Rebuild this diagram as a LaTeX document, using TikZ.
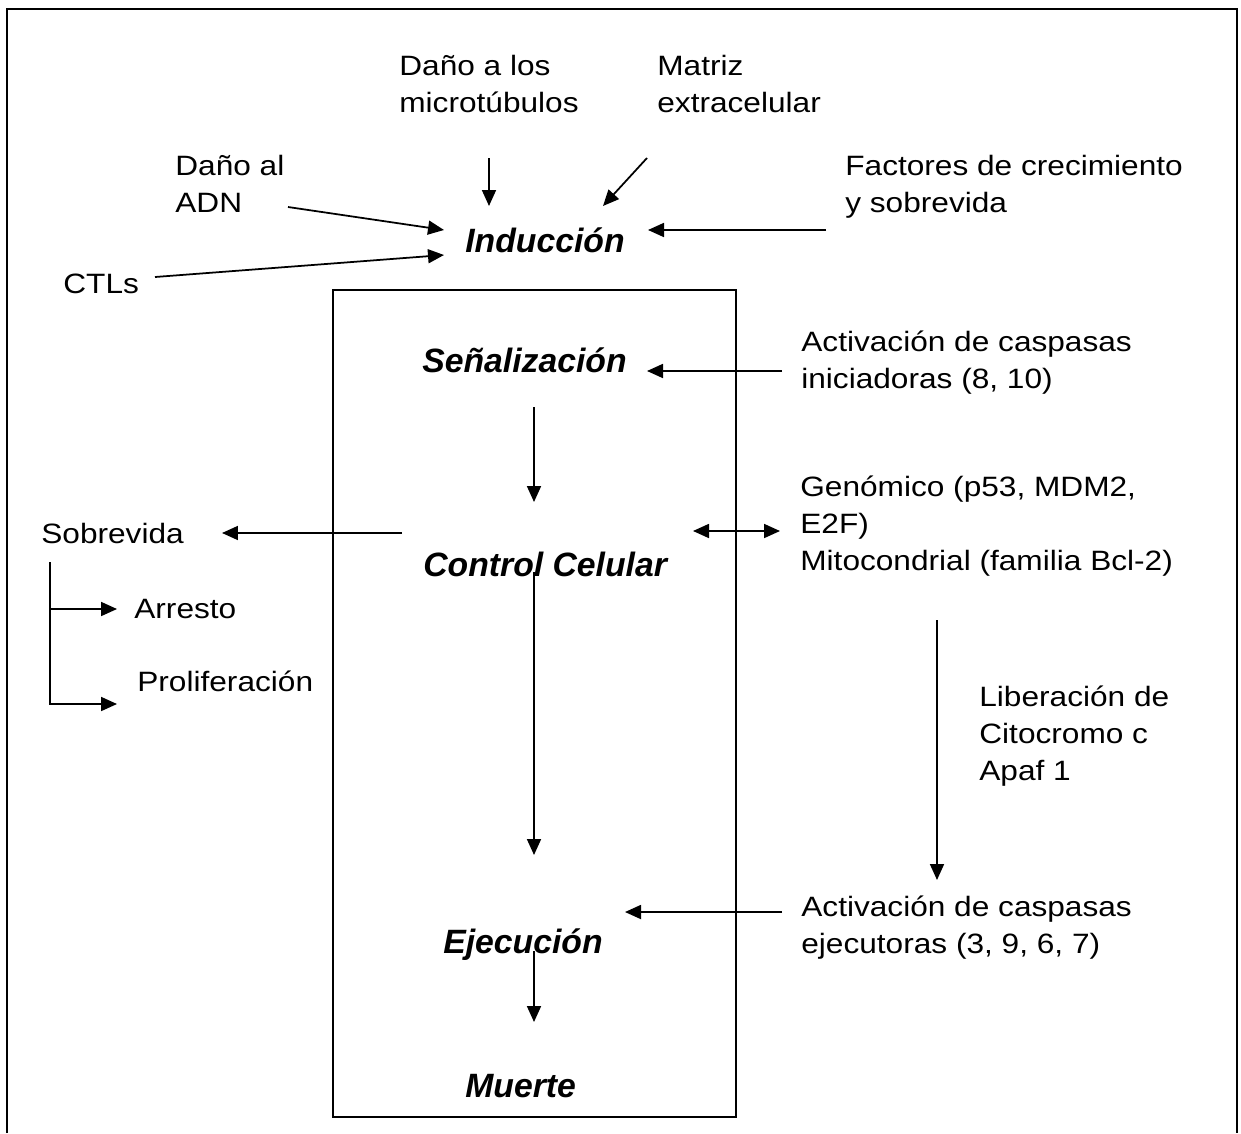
\documentclass[tikz,border=0pt]{standalone}
\usepackage{fontspec}
\setmainfont{Liberation Sans}
\newfontfamily\regfont{Liberation Sans}[FakeStretch=1.13]
\usetikzlibrary{arrows.meta}
\begin{document}
\begin{tikzpicture}[x=0.02cm,y=-0.02cm,
  lbl/.style={anchor=base west,inner sep=0pt,align=left,
    font=\regfont\fontsize{15.93pt}{21.05pt}\selectfont},
  stage/.style={anchor=base west,inner sep=0pt,
    font=\bfseries\itshape\fontsize{19.2pt}{23pt}\selectfont},
  conn/.style={line width=1pt},
  arr/.style={conn,-{Triangle[length=0.32cm,width=0.28cm]}},
  darr/.style={conn,{Triangle[length=0.32cm,width=0.28cm]}-{Triangle[length=0.32cm,width=0.28cm]}},
  frame/.style={line width=1.1pt}]
\useasboundingbox (0,0) rectangle (1241,1133);
% frames
\draw[frame] (7,1133) -- (7,9) -- (1237,9) -- (1237,1133);
\draw[frame] (333,290) rectangle (736,1117);
% text nodes (anchor = baseline of last line)
\node[lbl] (dmt) at (399,112) {Daño a los\\microtúbulos};
\node[lbl] (mat) at (657,112) {Matriz\\extracelular};
\node[lbl] (adn) at (175,212) {Daño al\\ADN};
\node[lbl] (fac) at (845,212) {Factores de crecimiento\\y sobrevida};
\node[stage] (ind) at (465,252) {Inducción};
\node[lbl] (ctl) at (63,293) {CTLs};
\node[stage] (sen) at (422,372) {Señalización};
\node[lbl] (aci) at (801,388) {Activación de caspasas\\iniciadoras (8, 10)};
\node[stage] (ctr) at (423,576) {Control Celular};
\node[lbl] (gen) at (800,570) {Genómico (p53, MDM2,\\E2F)\\Mitocondrial (familia Bcl-2)};
\node[lbl] (sob) at (41,543) {Sobrevida};
\node[lbl] (arr) at (134,618) {Arresto};
\node[lbl] (pro) at (137,691) {Proliferación};
\node[lbl] (lib) at (979,780) {Liberación de\\Citocromo c\\Apaf 1};
\node[lbl] (ace) at (801,953) {Activación de caspasas\\ejecutoras (3, 9, 6, 7)};
\node[stage] (eje) at (443,953) {Ejecución};
\node[stage] (mue) at (465,1097) {Muerte};
% connector ends
\coordinate (dmtS) at (489,158); \coordinate (dmtT) at (489,206);
\coordinate (matS) at (647,158); \coordinate (matT) at (603,206);
\coordinate (adnS) at (288,207); \coordinate (adnT) at (444,230);
\coordinate (ctlS) at (155,277); \coordinate (ctlT) at (444,255);
\coordinate (facS) at (826,230); \coordinate (facT) at (648,230);
\coordinate (aciS) at (782,371); \coordinate (aciT) at (647,371);
\coordinate (senS) at (534,407); \coordinate (senT) at (534,502);
\coordinate (sobS) at (402,533); \coordinate (sobT) at (222,533);
\coordinate (genL) at (693,531); \coordinate (genR) at (780,531);
\coordinate (brS) at (50,562); \coordinate (brC) at (50,704);
\coordinate (brA) at (50,609);
\coordinate (arrT) at (117,609); \coordinate (proT) at (117,704);
\coordinate (ctrS) at (534,572); \coordinate (ctrT) at (534,855);
\coordinate (libS) at (937,620); \coordinate (libT) at (937,880);
\coordinate (aceS) at (782,912); \coordinate (aceT) at (625,912);
\coordinate (ejeS) at (534,951); \coordinate (ejeT) at (534,1022);
% connectors
\draw[arr] (dmtS) -- (dmtT);
\draw[arr] (matS) -- (matT);
\draw[arr] (adnS) -- (adnT);
\draw[arr] (ctlS) -- (ctlT);
\draw[arr] (facS) -- (facT);
\draw[arr] (aciS) -- (aciT);
\draw[arr] (senS) -- (senT);
\draw[arr] (sobS) -- (sobT);
\draw[darr] (genL) -- (genR);
\draw[arr] (brS) -- (brC) -- (proT);
\draw[arr] (brA) -- (arrT);
\draw[arr] (ctrS) -- (ctrT);
\draw[arr] (libS) -- (libT);
\draw[arr] (aceS) -- (aceT);
\draw[arr] (ejeS) -- (ejeT);
\end{tikzpicture}
\end{document}
